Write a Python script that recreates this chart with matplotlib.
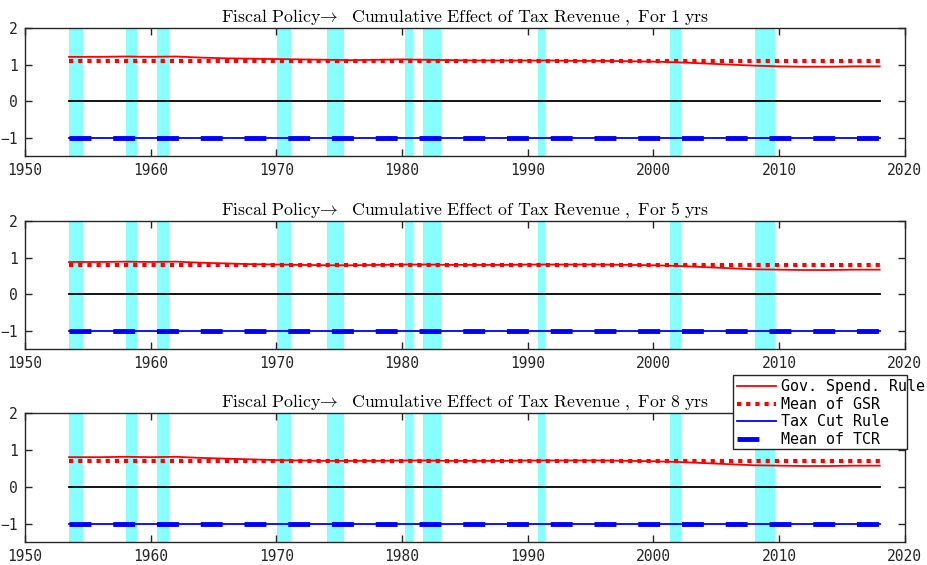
import matplotlib.pyplot as plt
from matplotlib.patches import Rectangle

plt.rcParams['mathtext.fontset'] = 'cm'

# horizons shown in the three panels
horizons = [1, 5, 8]

years = [1953.5, 1956, 1958, 1960, 1962, 1964, 1966, 1968, 1970, 1972, 1974,
         1976, 1978, 1980, 1982, 1984, 1986, 1988, 1990, 1992, 1994, 1996,
         1998, 2000, 2002, 2004, 2006, 2008, 2010, 2012, 2014, 2016, 2018]

# Gov. spending rule, one row per horizon
gsr = [
    [1.21, 1.21, 1.22, 1.21, 1.22, 1.19, 1.17, 1.16, 1.15, 1.14, 1.13,
     1.12, 1.13, 1.14, 1.13, 1.12, 1.11, 1.11, 1.11, 1.11, 1.10, 1.10,
     1.09, 1.08, 1.06, 1.03, 1.00, 0.97, 0.95, 0.94, 0.94, 0.95, 0.95],
    [0.88, 0.88, 0.89, 0.88, 0.89, 0.86, 0.84, 0.82, 0.81, 0.80, 0.79,
     0.79, 0.80, 0.81, 0.81, 0.80, 0.80, 0.80, 0.81, 0.81, 0.81, 0.81,
     0.80, 0.79, 0.77, 0.74, 0.71, 0.68, 0.67, 0.66, 0.66, 0.67, 0.67],
    [0.80, 0.80, 0.81, 0.80, 0.81, 0.78, 0.76, 0.74, 0.72, 0.71, 0.70,
     0.70, 0.70, 0.71, 0.71, 0.70, 0.70, 0.70, 0.71, 0.71, 0.71, 0.71,
     0.70, 0.69, 0.67, 0.64, 0.61, 0.58, 0.57, 0.56, 0.56, 0.57, 0.57],
]
gsr_mean = [1.09, 0.79, 0.69]

# Tax cut rule (same for every horizon)
tcr = [-1.00, -1.00, -1.00, -1.00, -1.00, -1.00, -1.00, -1.00, -1.00, -1.00,
       -1.00, -1.00, -1.00, -1.00, -1.00, -1.00, -1.00, -1.00, -1.00, -1.00,
       -1.00, -1.00, -1.00, -1.00, -1.00, -1.00, -1.00, -1.00, -1.00, -1.00,
       -1.00, -1.00, -1.00]
tcr_mean = [-1.0, -1.0, -1.0]

# recession periods (start, end)
rec_start = [1953.5, 1958.0, 1960.5, 1970.05, 1974.0, 1980.2, 1981.7, 1990.8, 2001.3, 2008.05]
rec_end = [1954.6, 1958.9, 1961.45, 1971.15, 1975.4, 1980.85, 1983.1, 1991.4, 2002.2, 2009.7]

xticks = [1950, 1960, 1970, 1980, 1990, 2000, 2010, 2020]
yticks = [-1, 0, 1, 2]
ytick_labels = ['\u22121', '0', '1', '2']

fig = plt.figure(figsize=(9.28, 5.65), dpi=100)
axc = '#262626'
tick_font = 'DejaVu Sans Mono'

# axes boxes: left, bottom, width, height
boxes = [[0.027, 0.724, 0.948, 0.2265],
         [0.027, 0.3823, 0.948, 0.2265],
         [0.027, 0.0407, 0.948, 0.2285]]

for i, h in enumerate(horizons):
    ax = fig.add_axes(boxes[i])
    for s, e in zip(rec_start, rec_end):
        ax.axvspan(s, e, color='cyan', alpha=0.47, lw=0, zorder=0)
    ax.plot([years[0], years[-1]], [0, 0], color='black', lw=1.3, zorder=2)
    l1, = ax.plot(years, gsr[i], color='red', lw=1.3, zorder=3,
                  label='Gov. Spend. Rule')
    l2, = ax.plot([years[0], years[-1]], [gsr_mean[i], gsr_mean[i]],
                  color='red', lw=3, linestyle=(0, (1, 1.2)), zorder=3,
                  label='Mean of GSR')
    l3, = ax.plot(years, tcr, color='blue', lw=1.3, zorder=3,
                  label='Tax Cut Rule')
    l4, = ax.plot([years[0], years[-1]], [tcr_mean[i], tcr_mean[i]],
                  color='blue', lw=3.5, linestyle=(0, (4.5, 4.5)), zorder=3,
                  label='Mean of TCR')
    ax.set_xlim(1950, 2020)
    ax.set_ylim(-1.5, 2)
    ax.set_xticks(xticks)
    ax.set_xticklabels([str(x) for x in xticks], fontfamily=tick_font,
                       fontsize=10.5, color=axc)
    ax.set_yticks(yticks)
    ax.set_yticklabels(ytick_labels, fontfamily=tick_font, fontsize=10.5,
                       color=axc)
    ax.tick_params(direction='in', top=True, right=True, length=5,
                   width=1, color=axc, pad=5)
    for sp in ax.spines.values():
        sp.set_color(axc)
        sp.set_linewidth(1)
    ax.set_title(r'$\mathrm{Fiscal\ Policy}\!\rightarrow\ \ \mathrm{Cumulative\ Effect\ of\ Tax\ Revenue\ ,\ For\ '
                 + str(h) + r'\ yrs}$', fontsize=12.8, pad=4)

# legend box drawn separately so the long label can run past its edge
fig.patches.append(Rectangle((0.790, 0.205), 0.187, 0.131, transform=fig.transFigure,
                             facecolor='white', edgecolor=axc, lw=1, zorder=5))
leg = fig.legend(handles=[l1, l2, l3, l4], loc='upper left',
                 bbox_to_anchor=(0.791, 0.334),
                 prop={'family': tick_font, 'size': 10.8},
                 frameon=False, handlelength=2.6, handletextpad=0.3,
                 borderpad=0.2, labelspacing=0.17, borderaxespad=0)
leg.set_zorder(6)

fig.savefig('out.png', dpi=100)
